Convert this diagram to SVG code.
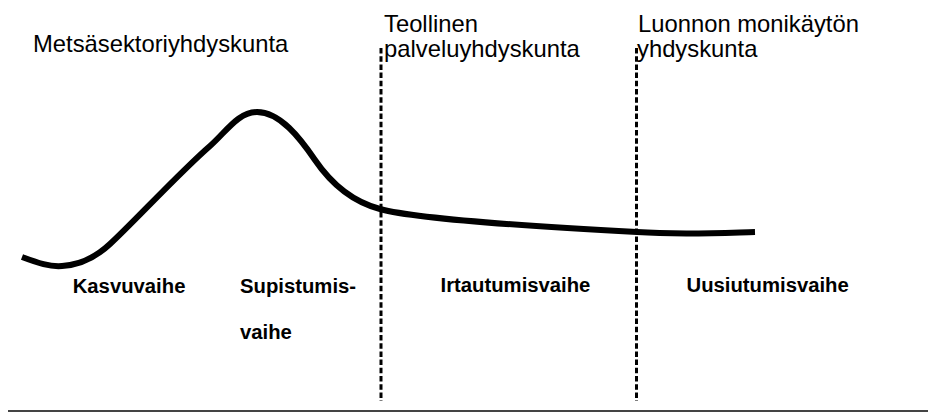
<svg xmlns="http://www.w3.org/2000/svg" width="928" height="412" viewBox="0 0 928 412">
<style>
.t{font-family:"Liberation Sans",Arial,sans-serif;font-size:23.8px;fill:#000}
.b{font-family:"Liberation Sans",Arial,sans-serif;font-size:20.3px;font-weight:bold;fill:#000}
.d{stroke:#000;stroke-width:3;stroke-dasharray:5.5 2.7;fill:none}
</style>
<rect width="928" height="412" fill="#fff"/>
<g id="connectors">
<path id="curve" d="M 22 257 C 38 263, 50 267, 62 266 C 80 265, 95 258, 110 244 C 130 226, 180 172, 210 146 C 226 132, 238 112, 257 112 C 280 112, 300 138, 315 160 C 330 182, 350 201, 380 209 C 420 220, 560 228, 637 232 C 680 235, 720 233, 755 232" fill="none" stroke="#000" stroke-width="6"/>
<line class="d" x1="381" y1="48" x2="381" y2="401"/>
<line class="d" x1="636.5" y1="48" x2="636.5" y2="401"/>
<line x1="8" y1="411" x2="928" y2="411" stroke="#444" stroke-width="2"/>
</g>
<g id="metsa"><text class="t" x="33" y="52">Metsäsektoriyhdyskunta</text></g>
<g id="teollinen"><text class="t" x="384" y="32">Teollinen</text><text class="t" x="384" y="57">palveluyhdyskunta</text></g>
<g id="luonnon"><text class="t" x="638" y="32">Luonnon monikäytön</text><text class="t" x="637" y="57">yhdyskunta</text></g>
<g id="kasvu"><text class="b" x="72.7" y="293">Kasvuvaihe</text></g>
<g id="supistumis"><text class="b" x="240" y="293">Supistumis-</text><text class="b" x="240" y="339">vaihe</text></g>
<g id="irtautumis"><text class="b" x="440.5" y="292">Irtautumisvaihe</text></g>
<g id="uusiutumis"><text class="b" x="686.5" y="292">Uusiutumisvaihe</text></g>
</svg>
